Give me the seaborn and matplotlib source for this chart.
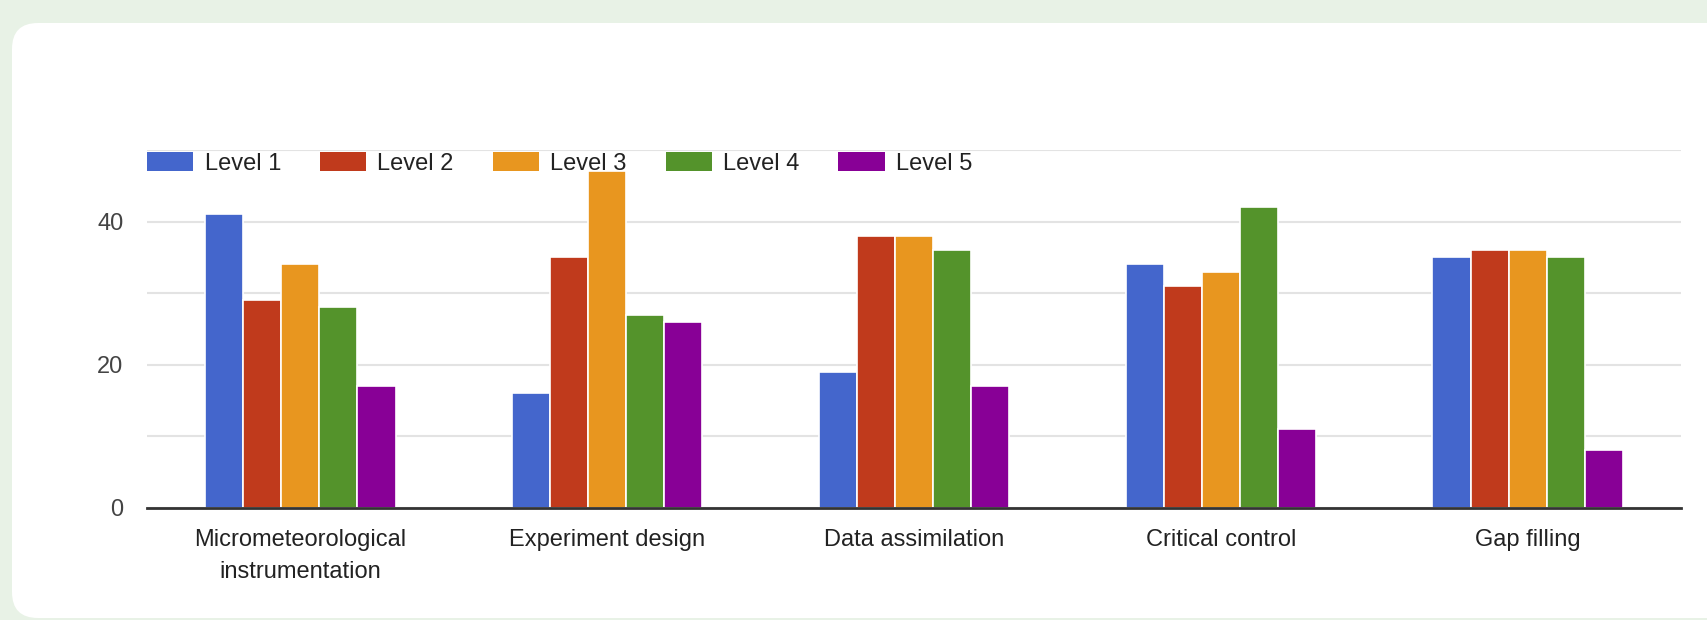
import matplotlib
matplotlib.use("Agg")
import matplotlib.pyplot as plt
import seaborn as sns
import pandas as pd
from matplotlib.patches import FancyBboxPatch, Patch

# ---- data ----
categories = ["Micrometeorological\ninstrumentation", "Experiment design",
              "Data assimilation", "Critical control", "Gap filling"]
levels = ["Level 1", "Level 2", "Level 3", "Level 4", "Level 5"]
level1 = [41, 16, 19, 34, 35]
level2 = [29, 35, 38, 31, 36]
level3 = [34, 47, 38, 33, 36]
level4 = [28, 27, 36, 42, 35]
level5 = [17, 26, 17, 11, 8]
colors = ["#4466cc", "#c03a1c", "#e8961f", "#54932b", "#880096"]
yticks = [0, 10, 20, 30, 40, 50]
ytick_labels = ["0", "", "20", "", "40", ""]

series = [level1, level2, level3, level4, level5]
rows = []
for lvl, vals in zip(levels, series):
    for cat, v in zip(categories, vals):
        rows.append({"category": cat, "level": lvl, "value": v})
df = pd.DataFrame(rows)

sns.set_theme(style="white")
plt.rcParams["font.family"] = ["Liberation Sans", "DejaVu Sans"]

W, H = 1707, 620
fig = plt.figure(figsize=(W / 100, H / 100), dpi=100)
fig.patch.set_facecolor("#e8f2e6")

# background card
bg = fig.add_axes([0, 0, 1, 1], zorder=0)
bg.set_xlim(0, W)
bg.set_ylim(H, 0)
bg.axis("off")
card = FancyBboxPatch((12, 23), 1760, 595, boxstyle="round,pad=0,rounding_size=26",
                      facecolor="white", edgecolor="none")
bg.add_patch(card)

left, right, y0, ytop = 147, 1681, 507.7, 150
ax = fig.add_axes([left / W, 1 - y0 / H, (right - left) / W, (y0 - ytop) / H], zorder=1)
ax.set_facecolor("none")

sns.barplot(data=df, x="category", y="value", hue="level", palette=colors,
            width=0.62, edgecolor="white", linewidth=1.2, saturation=1,
            ax=ax, legend=False, zorder=3)

ax.set_ylim(0, 50)
ax.set_xlim(-0.5, len(categories) - 0.5)
ax.set_yticks(yticks)
ax.set_yticklabels(ytick_labels)
ax.yaxis.grid(True, color="#e3e3e3", linewidth=1.5, zorder=0)
ax.set_axisbelow(True)
for s in ["top", "right", "left"]:
    ax.spines[s].set_visible(False)
ax.spines["bottom"].set_color("#333333")
ax.spines["bottom"].set_linewidth(2)
ax.spines["bottom"].set_zorder(4)
ax.set_xlabel("")
ax.set_ylabel("")
ax.tick_params(axis="y", length=0, pad=17, labelsize=17, labelcolor="#444444")
ax.tick_params(axis="x", length=0, pad=15, labelsize=17, labelcolor="#222222")
for t in ax.get_xticklabels():
    t.set_linespacing(1.6)
    t.set_verticalalignment("top")

handles = [Patch(facecolor=c, edgecolor="none", label=l) for c, l in zip(colors, levels)]
leg = fig.legend(handles=handles, loc="upper left",
                 bbox_to_anchor=(146.7 / W, 1 - 152 / H), ncol=5, frameon=False,
                 fontsize=17, handlelength=1.95, handleheight=0.89,
                 handletextpad=0.5, columnspacing=1.64, borderpad=0,
                 borderaxespad=0)
for t in leg.get_texts():
    t.set_color("#222222")

fig.savefig("out.png", dpi=100, facecolor=fig.get_facecolor())
